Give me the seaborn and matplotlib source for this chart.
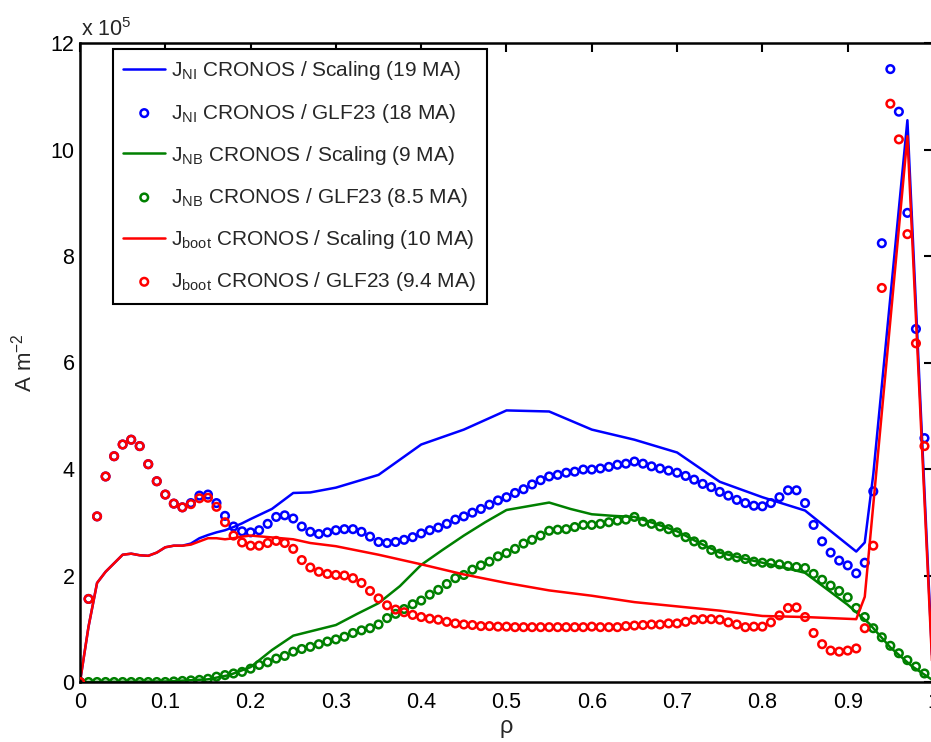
import numpy as np
import pandas as pd
import matplotlib
matplotlib.use("Agg")
import matplotlib.pyplot as plt
import seaborn as sns

# GLF23 profiles, sampled every 0.01 in rho (values in units of 1e5 A m^-2)
rho = np.linspace(0.0, 0.99, 100)

j_boot_glf = [
    0.00, 1.56, 3.11, 3.86, 4.24, 4.46, 4.55, 4.43, 4.09, 3.77,
    3.52, 3.35, 3.28, 3.34, 3.45, 3.46, 3.29, 3.00, 2.75, 2.62,
    2.56, 2.56, 2.61, 2.65, 2.61, 2.50, 2.29, 2.15, 2.07, 2.03,
    2.01, 2.00, 1.95, 1.86, 1.71, 1.57, 1.44, 1.36, 1.31, 1.26,
    1.22, 1.19, 1.17, 1.13, 1.10, 1.08, 1.07, 1.05, 1.05, 1.04,
    1.04, 1.03, 1.03, 1.03, 1.03, 1.03, 1.03, 1.03, 1.03, 1.03,
    1.04, 1.03, 1.03, 1.03, 1.05, 1.06, 1.07, 1.08, 1.08, 1.10,
    1.10, 1.13, 1.17, 1.18, 1.18, 1.17, 1.12, 1.08, 1.03, 1.04,
    1.04, 1.12, 1.25, 1.39, 1.40, 1.22, 0.92, 0.71, 0.59, 0.57,
    0.59, 0.63, 1.01, 2.56, 7.40, 10.86, 10.19, 8.41, 6.36, 4.43,
]

j_ni_glf = [
    0.00, 1.56, 3.11, 3.86, 4.24, 4.46, 4.55, 4.43, 4.09, 3.77,
    3.52, 3.35, 3.28, 3.36, 3.50, 3.52, 3.36, 3.12, 2.92, 2.83,
    2.81, 2.85, 2.97, 3.10, 3.13, 3.07, 2.92, 2.82, 2.78, 2.81,
    2.85, 2.87, 2.87, 2.82, 2.73, 2.63, 2.61, 2.63, 2.67, 2.72,
    2.79, 2.85, 2.90, 2.97, 3.05, 3.11, 3.18, 3.25, 3.33, 3.41,
    3.47, 3.55, 3.62, 3.71, 3.79, 3.86, 3.89, 3.93, 3.95, 3.99,
    3.99, 4.01, 4.04, 4.08, 4.10, 4.14, 4.10, 4.05, 4.01, 3.97,
    3.93, 3.87, 3.80, 3.72, 3.66, 3.57, 3.50, 3.42, 3.36, 3.31,
    3.30, 3.36, 3.47, 3.60, 3.60, 3.36, 2.95, 2.64, 2.43, 2.28,
    2.19, 2.04, 2.24, 3.58, 8.24, 11.51, 10.71, 8.81, 6.63, 4.58,
]

j_nb_glf = [
    0.00, 0.00, 0.00, 0.00, 0.00, 0.00, 0.00, 0.00, 0.00, 0.00,
    0.00, 0.01, 0.02, 0.03, 0.04, 0.06, 0.10, 0.13, 0.16, 0.19,
    0.25, 0.32, 0.37, 0.44, 0.49, 0.57, 0.62, 0.66, 0.71, 0.76,
    0.80, 0.85, 0.92, 0.97, 1.01, 1.08, 1.20, 1.28, 1.37, 1.46,
    1.53, 1.64, 1.73, 1.84, 1.95, 2.01, 2.11, 2.19, 2.26, 2.36,
    2.42, 2.50, 2.60, 2.67, 2.75, 2.84, 2.86, 2.87, 2.91, 2.95,
    2.95, 2.97, 3.00, 3.03, 3.05, 3.10, 3.01, 2.97, 2.92, 2.87,
    2.81, 2.72, 2.64, 2.58, 2.48, 2.41, 2.37, 2.34, 2.31, 2.26,
    2.24, 2.23, 2.21, 2.18, 2.16, 2.14, 2.03, 1.92, 1.81, 1.71,
    1.59, 1.39, 1.22, 1.01, 0.84, 0.68, 0.54, 0.41, 0.29, 0.16,
]

# Scaling-law profiles (polyline vertices)
rho_ni_sc = [0, 0.01, 0.02, 0.03, 0.04, 0.05, 0.06, 0.07, 0.08, 0.09, 0.10,
             0.11, 0.12, 0.13, 0.14, 0.15, 0.16, 0.17, 0.18, 0.19, 0.20,
             0.225, 0.25, 0.27, 0.30, 0.35, 0.40, 0.45, 0.50, 0.55, 0.60,
             0.65, 0.70, 0.75, 0.80, 0.85, 0.91, 0.92, 0.93, 0.97, 1.0]
j_ni_sc = [0, 1.04, 1.86, 2.07, 2.23, 2.39, 2.41, 2.38, 2.37, 2.43, 2.53,
           2.56, 2.56, 2.60, 2.70, 2.76, 2.81, 2.85, 2.91, 2.98, 3.06,
           3.25, 3.55, 3.56, 3.65, 3.89, 4.46, 4.74, 5.10, 5.08, 4.74,
           4.55, 4.31, 3.76, 3.47, 3.22, 2.45, 2.62, 3.90, 10.55, 0.10]

rho_nb_sc = [0, 0.10, 0.15, 0.175, 0.20, 0.225, 0.25, 0.275, 0.30, 0.325,
             0.35, 0.375, 0.40, 0.425, 0.45, 0.475, 0.50, 0.525, 0.55, 0.575,
             0.60, 0.625, 0.65, 0.675, 0.70, 0.725, 0.75, 0.775, 0.80, 0.825,
             0.85, 0.875, 0.90, 0.925, 0.95, 0.975, 1.0]
j_nb_sc = [0, 0.01, 0.05, 0.13, 0.28, 0.60, 0.87, 0.97, 1.07, 1.28,
           1.48, 1.80, 2.20, 2.48, 2.75, 3.00, 3.23, 3.30, 3.37, 3.25,
           3.15, 3.12, 3.10, 2.97, 2.83, 2.62, 2.43, 2.33, 2.24, 2.15,
           2.05, 1.75, 1.45, 1.10, 0.65, 0.30, 0.03]

rho_boot_sc = [0, 0.01, 0.02, 0.03, 0.04, 0.05, 0.06, 0.07, 0.08, 0.09, 0.10,
               0.11, 0.12, 0.13, 0.14, 0.15, 0.16, 0.17, 0.18, 0.19, 0.20,
               0.25, 0.27, 0.30, 0.35, 0.40, 0.45, 0.50, 0.55, 0.60, 0.65,
               0.70, 0.75, 0.80, 0.85, 0.91, 0.92, 0.97, 1.0]
j_boot_sc = [0, 1.04, 1.86, 2.07, 2.23, 2.39, 2.41, 2.38, 2.37, 2.43, 2.53,
             2.56, 2.56, 2.58, 2.64, 2.70, 2.70, 2.68, 2.70, 2.73, 2.75,
             2.68, 2.61, 2.55, 2.39, 2.21, 2.02, 1.86, 1.72, 1.62, 1.50,
             1.42, 1.34, 1.24, 1.22, 1.18, 1.60, 10.25, 0.0]

labels = [
    r"J$_{\mathregular{NI}}$ CRONOS / Scaling (19 MA)",
    r"J$_{\mathregular{NI}}$ CRONOS / GLF23 (18 MA)",
    r"J$_{\mathregular{NB}}$ CRONOS / Scaling (9 MA)",
    r"J$_{\mathregular{NB}}$ CRONOS / GLF23 (8.5 MA)",
    r"J$_{\mathregular{boot}}$ CRONOS / Scaling (10 MA)",
    r"J$_{\mathregular{boot}}$ CRONOS / GLF23 (9.4 MA)",
]
colors = ["#0000ff", "#008000", "#ff0000"]

sns.set_theme(style="white")
plt.rcParams["font.family"] = ["Liberation Sans", "DejaVu Sans"]
plt.rcParams["mathtext.fontset"] = "custom"
plt.rcParams["mathtext.rm"] = "Liberation Sans"
plt.rcParams["mathtext.it"] = "Liberation Sans:italic"

fig = plt.figure(figsize=(9.31, 7.42), dpi=100)
ax = fig.add_axes([80 / 931, 60 / 742, 853 / 931, 639 / 742])

series = [
    (rho_ni_sc, j_ni_sc, j_ni_glf),
    (rho_nb_sc, j_nb_sc, j_nb_glf),
    (rho_boot_sc, j_boot_sc, j_boot_glf),
]
z = 2.0
for i, (rs, js, jg) in enumerate(series):
    c = colors[i]
    sns.lineplot(x=rs, y=js, color=c, linewidth=1.8, sort=False,
                 estimator=None, label=labels[2 * i], ax=ax, zorder=z)
    sns.scatterplot(x=rho, y=jg, marker="o", s=30, color=c, facecolor="none",
                    edgecolor=c, linewidth=1.8, label=labels[2 * i + 1],
                    ax=ax, zorder=z + 0.1)
    z += 0.2

ax.set_xlim(0, 1)
ax.set_ylim(0, 12)
ax.set_xticks(np.arange(0, 1.01, 0.1))
ax.set_xticklabels(["0", "0.1", "0.2", "0.3", "0.4", "0.5", "0.6", "0.7",
                    "0.8", "0.9", "1"])
ax.set_yticks([0, 2, 4, 6, 8, 10, 12])
ax.tick_params(direction="in", length=6.5, width=1.5, top=True, right=True,
               labelsize=15.5, colors="black")
ax.tick_params(axis="x", pad=7)
ax.tick_params(axis="y", pad=4)
for sp in ax.spines.values():
    sp.set_linewidth(1.8)
    sp.set_color("black")

ax.set_xlabel("ρ", fontsize=17, labelpad=2)
ax.set_ylabel(r"A m$^{\mathregular{-2}}$", fontsize=16, labelpad=10)
fig.text(81 / 931, 1 - 36 / 742, r"x 10$^{\mathregular{5}}$", fontsize=15.5,
         va="baseline", ha="left")

leg = ax.legend(loc="upper left", bbox_to_anchor=(113 / 931, 1 - 49 / 742),
                bbox_transform=fig.transFigure, fontsize=15, frameon=True,
                fancybox=False, edgecolor="black", framealpha=1,
                handlelength=2.0, handletextpad=0.3, labelspacing=0.92,
                borderpad=0.5, borderaxespad=0, scatterpoints=1)
leg.get_frame().set_linewidth(1.5)

fig.savefig("out.png", dpi=100)
